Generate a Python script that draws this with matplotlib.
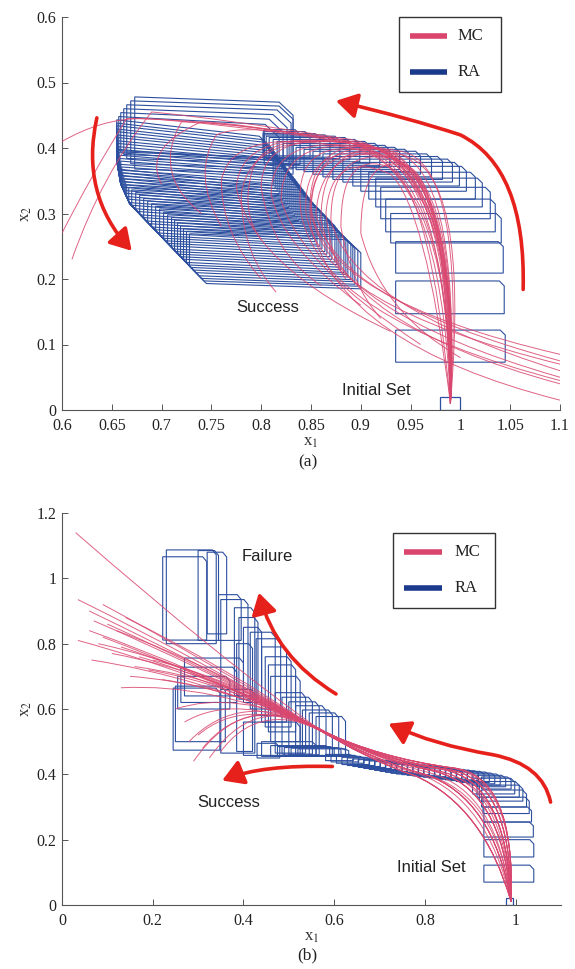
import matplotlib
matplotlib.use("Agg")
import matplotlib.pyplot as plt
from matplotlib.path import Path
from matplotlib.patches import PathPatch, Polygon, FancyArrowPatch, Rectangle
from matplotlib.lines import Line2D

plt.rcParams['font.family'] = ['Liberation Serif', 'DejaVu Serif']
plt.rcParams['mathtext.fontset'] = 'stix'

# ---------------- data: panel (a) ----------------
A_XLIM = (0.6, 1.1)
A_YLIM = (0.0, 0.6)
A_XTICKS = [0.6, 0.65, 0.7, 0.75, 0.8, 0.85, 0.9, 0.95, 1.0, 1.05, 1.1]
A_XTICKLABELS = ['0.6', '0.65', '0.7', '0.75', '0.8', '0.85', '0.9', '0.95', '1', '1.05', '1.1']
A_YTICKS = [0, 0.1, 0.2, 0.3, 0.4, 0.5, 0.6]
A_YTICKLABELS = ['0', '0.1', '0.2', '0.3', '0.4', '0.5', '0.6']

# reach sets (x0, x1, y0, y1): initial set, rising column and top trail
A_INIT = (0.980, 1.000, 0.000, 0.020)
A_BOXES = [
    (0.935, 1.045, 0.073, 0.122), (0.935, 1.044, 0.147, 0.197),
    (0.935, 1.043, 0.209, 0.257), (0.930, 1.041, 0.255, 0.300),
    (0.925, 1.035, 0.272, 0.322), (0.920, 1.030, 0.292, 0.340),
    (0.915, 1.022, 0.310, 0.354), (0.908, 1.015, 0.322, 0.363),
    (0.900, 1.006, 0.334, 0.372), (0.892, 0.999, 0.342, 0.378),
    (0.882, 0.992, 0.348, 0.383), (0.872, 0.982, 0.352, 0.387),
    (0.862, 0.971, 0.356, 0.391), (0.852, 0.960, 0.360, 0.395),
    (0.843, 0.949, 0.364, 0.398), (0.835, 0.939, 0.367, 0.401),
    (0.828, 0.929, 0.370, 0.404), (0.822, 0.919, 0.373, 0.407),
    (0.816, 0.909, 0.376, 0.410), (0.812, 0.899, 0.379, 0.413),
    (0.808, 0.889, 0.382, 0.416), (0.805, 0.879, 0.384, 0.418),
    (0.803, 0.869, 0.386, 0.420), (0.802, 0.859, 0.388, 0.422),
    (0.802, 0.849, 0.385, 0.425), (0.803, 0.839, 0.375, 0.428),
]
# "success" sets: (x left, x right, top y at left, top y at right, height)
A_SUCC = [
    (0.673, 0.818, 0.478, 0.470, 0.110), (0.669, 0.818, 0.472, 0.464, 0.096),
    (0.665, 0.816, 0.466, 0.458, 0.082), (0.662, 0.812, 0.460, 0.451, 0.070),
    (0.659, 0.808, 0.454, 0.444, 0.060), (0.657, 0.804, 0.448, 0.436, 0.052),
    (0.655, 0.798, 0.443, 0.418, 0.075), (0.655, 0.800, 0.438, 0.413, 0.075),
    (0.655, 0.802, 0.434, 0.409, 0.075), (0.655, 0.804, 0.429, 0.404, 0.075),
    (0.655, 0.806, 0.425, 0.400, 0.075), (0.655, 0.808, 0.420, 0.396, 0.075),
    (0.656, 0.810, 0.416, 0.392, 0.075), (0.656, 0.812, 0.411, 0.388, 0.075),
    (0.656, 0.814, 0.407, 0.384, 0.075), (0.657, 0.816, 0.402, 0.380, 0.075),
    (0.657, 0.818, 0.398, 0.376, 0.075), (0.657, 0.820, 0.393, 0.372, 0.075),
    (0.658, 0.822, 0.389, 0.368, 0.075), (0.658, 0.824, 0.384, 0.364, 0.075),
    (0.659, 0.826, 0.380, 0.360, 0.075), (0.659, 0.828, 0.375, 0.356, 0.075),
    (0.660, 0.830, 0.371, 0.352, 0.075), (0.660, 0.832, 0.366, 0.348, 0.075),
    (0.661, 0.834, 0.362, 0.344, 0.075), (0.662, 0.836, 0.357, 0.340, 0.075),
    (0.663, 0.838, 0.353, 0.336, 0.075), (0.664, 0.840, 0.348, 0.332, 0.075),
    (0.665, 0.842, 0.344, 0.328, 0.075), (0.667, 0.845, 0.340, 0.325, 0.075),
    (0.670, 0.847, 0.336, 0.321, 0.075), (0.674, 0.850, 0.332, 0.317, 0.075),
    (0.678, 0.852, 0.328, 0.313, 0.075), (0.682, 0.855, 0.323, 0.309, 0.075),
    (0.686, 0.857, 0.319, 0.305, 0.075), (0.690, 0.860, 0.315, 0.301, 0.075),
    (0.694, 0.862, 0.311, 0.297, 0.075), (0.698, 0.864, 0.307, 0.293, 0.075),
    (0.702, 0.866, 0.302, 0.289, 0.075), (0.706, 0.869, 0.298, 0.285, 0.075),
    (0.710, 0.871, 0.294, 0.282, 0.075), (0.713, 0.873, 0.290, 0.278, 0.075),
    (0.716, 0.876, 0.286, 0.274, 0.075), (0.719, 0.878, 0.281, 0.271, 0.075),
    (0.722, 0.880, 0.277, 0.267, 0.075), (0.725, 0.883, 0.273, 0.264, 0.075),
    (0.728, 0.886, 0.269, 0.260, 0.075),
]
# lower-left envelope of the success sets
A_ENVELOPE = [(0.655, 0.60), (0.655, 0.38), (0.659, 0.345), (0.668, 0.315),
              (0.745, 0.193), (1.2, 0.05), (1.2, 0.60)]

# Monte-Carlo trajectories (quadratic Bezier control points)
A_MC = [
    [(0.99, 0.01), (1.00, 0.36), (0.93, 0.385), (0.85, 0.41), (0.85, 0.31), (0.86, 0.17), (1.10, 0.085)],
    [(0.99, 0.01), (1.01, 0.37), (0.94, 0.39), (0.86, 0.41), (0.855, 0.30), (0.87, 0.17), (1.10, 0.075)],
    [(0.99, 0.01), (0.995, 0.37), (0.92, 0.39), (0.84, 0.41), (0.845, 0.30), (0.86, 0.16), (1.10, 0.07)],
    [(0.99, 0.01), (1.00, 0.38), (0.93, 0.395), (0.85, 0.42), (0.85, 0.30), (0.87, 0.15), (1.10, 0.05)],
    [(0.99, 0.01), (0.985, 0.37), (0.91, 0.395), (0.83, 0.42), (0.84, 0.30), (0.86, 0.14), (1.10, 0.045)],
    [(0.99, 0.01), (1.005, 0.38), (0.94, 0.395), (0.86, 0.42), (0.86, 0.29), (0.88, 0.13), (1.10, 0.04)],
    [(0.99, 0.01), (0.99, 0.38), (0.92, 0.40), (0.84, 0.42), (0.85, 0.28), (0.88, 0.10), (1.10, 0.015)],
    [(0.99, 0.01), (0.995, 0.36), (0.93, 0.385), (0.87, 0.40), (0.87, 0.29), (0.89, 0.16), (1.10, 0.06)],
    [(0.99, 0.01), (0.97, 0.33), (0.93, 0.37), (0.88, 0.40), (0.88, 0.28), (0.89, 0.19), (0.92, 0.14)],
    [(0.99, 0.01), (0.985, 0.34), (0.95, 0.37), (0.90, 0.40), (0.90, 0.27), (0.92, 0.15), (1.00, 0.08)],
    [(0.99, 0.01), (0.965, 0.31), (0.93, 0.36), (0.87, 0.40), (0.865, 0.30), (0.87, 0.23), (0.885, 0.20)],
    [(0.99, 0.01), (1.00, 0.39), (0.90, 0.405), (0.79, 0.43), (0.78, 0.33), (0.78, 0.24), (0.815, 0.18)],
    [(0.99, 0.01), (0.99, 0.39), (0.90, 0.405), (0.80, 0.43), (0.80, 0.34), (0.81, 0.24), (0.86, 0.19)],
    [(0.99, 0.01), (1.00, 0.39), (0.91, 0.40), (0.81, 0.425), (0.81, 0.33), (0.82, 0.25), (0.90, 0.16)],
    [(0.99, 0.01), (0.98, 0.38), (0.89, 0.40), (0.77, 0.435), (0.76, 0.35), (0.76, 0.27), (0.80, 0.20)],
    [(0.99, 0.01), (0.995, 0.39), (0.90, 0.405), (0.78, 0.435), (0.775, 0.34), (0.79, 0.22), (0.93, 0.12)],
    [(0.99, 0.01), (1.00, 0.38), (0.91, 0.40), (0.82, 0.42), (0.82, 0.32), (0.84, 0.22), (0.96, 0.10)],
    [(0.99, 0.01), (1.00, 0.39), (0.88, 0.41), (0.75, 0.44), (0.68, 0.445), (0.64, 0.445), (0.60, 0.41)],
    [(0.99, 0.01), (0.99, 0.39), (0.87, 0.415), (0.74, 0.445), (0.665, 0.445), (0.63, 0.36), (0.60, 0.27)],
    [(0.99, 0.01), (1.00, 0.40), (0.88, 0.415), (0.76, 0.445), (0.69, 0.455), (0.64, 0.36), (0.61, 0.23)],
    [(0.99, 0.01), (0.99, 0.39), (0.88, 0.41), (0.77, 0.44), (0.74, 0.44), (0.68, 0.40), (0.70, 0.345)],
    [(0.99, 0.01), (1.00, 0.39), (0.89, 0.41), (0.77, 0.44), (0.72, 0.44), (0.69, 0.36), (0.74, 0.30)],
    [(0.99, 0.01), (0.995, 0.39), (0.89, 0.41), (0.78, 0.44), (0.755, 0.42), (0.73, 0.36), (0.76, 0.28)],
    [(0.99, 0.01), (1.00, 0.39), (0.90, 0.405), (0.80, 0.43), (0.79, 0.36), (0.78, 0.30), (0.80, 0.26)],
]
A_ARROWS = [
    [(1.063, 0.184), (1.066, 0.37), (1.00, 0.42), (0.95, 0.445), (0.875, 0.472)],
    [(0.635, 0.446), (0.618, 0.33), (0.670, 0.243)],
]
A_TEXTS = [("Success", 0.807, 0.157), ("Initial Set", 0.916, 0.030)]

# ---------------- data: panel (b) ----------------
B_XLIM = (0.0, 1.1)
B_YLIM = (0.0, 1.2)
B_XTICKS = [0, 0.2, 0.4, 0.6, 0.8, 1.0]
B_XTICKLABELS = ['0', '0.2', '0.4', '0.6', '0.8', '1']
B_YTICKS = [0, 0.2, 0.4, 0.6, 0.8, 1.0, 1.2]
B_YTICKLABELS = ['0', '0.2', '0.4', '0.6', '0.8', '1', '1.2']

B_INIT = (0.978, 0.995, 0.000, 0.020)
B_BOXES = [
    # rising column
    (0.930, 1.040, 0.070, 0.122), (0.930, 1.040, 0.147, 0.200),
    (0.930, 1.039, 0.208, 0.254), (0.930, 1.035, 0.254, 0.300),
    (0.928, 1.030, 0.280, 0.330), (0.925, 1.024, 0.300, 0.352),
    (0.920, 1.016, 0.318, 0.367), (0.915, 1.008, 0.330, 0.378),
    (0.905, 0.998, 0.340, 0.388),
    # trail towards the left
    (0.925, 0.990, 0.355, 0.392), (0.915, 0.978, 0.362, 0.397),
    (0.904, 0.966, 0.367, 0.401), (0.893, 0.954, 0.371, 0.404),
    (0.881, 0.942, 0.375, 0.407), (0.869, 0.930, 0.378, 0.409),
    (0.857, 0.918, 0.381, 0.411), (0.845, 0.906, 0.383, 0.413),
    (0.833, 0.894, 0.385, 0.415), (0.821, 0.882, 0.387, 0.417),
    (0.809, 0.870, 0.389, 0.419), (0.797, 0.858, 0.391, 0.421),
    (0.785, 0.846, 0.393, 0.423), (0.773, 0.834, 0.395, 0.425),
    (0.761, 0.822, 0.397, 0.427), (0.749, 0.810, 0.399, 0.429),
    (0.737, 0.798, 0.401, 0.431), (0.725, 0.786, 0.403, 0.433),
    (0.713, 0.774, 0.406, 0.435), (0.701, 0.762, 0.409, 0.437),
    (0.689, 0.750, 0.412, 0.439), (0.677, 0.738, 0.415, 0.441),
    (0.665, 0.726, 0.418, 0.443), (0.653, 0.714, 0.421, 0.445),
    (0.641, 0.702, 0.424, 0.447), (0.629, 0.690, 0.427, 0.450),
    (0.617, 0.678, 0.430, 0.452), (0.605, 0.666, 0.434, 0.455),
    (0.593, 0.654, 0.438, 0.458), (0.581, 0.642, 0.442, 0.461),
    # thin strip at the split
    (0.520, 0.632, 0.455, 0.478), (0.505, 0.625, 0.455, 0.480),
    (0.490, 0.615, 0.456, 0.482), (0.475, 0.600, 0.456, 0.485),
    (0.460, 0.590, 0.455, 0.488), (0.440, 0.560, 0.455, 0.500),
    (0.430, 0.480, 0.450, 0.495), (0.400, 0.525, 0.458, 0.560),
    # tall sets growing upward
    (0.560, 0.625, 0.455, 0.577), (0.545, 0.610, 0.456, 0.588),
    (0.530, 0.596, 0.457, 0.597), (0.515, 0.582, 0.458, 0.610),
    (0.500, 0.567, 0.460, 0.622), (0.485, 0.552, 0.462, 0.636),
    (0.470, 0.537, 0.465, 0.650),
    # failure branch
    (0.460, 0.525, 0.500, 0.700), (0.455, 0.515, 0.530, 0.735),
    (0.448, 0.505, 0.545, 0.760), (0.440, 0.495, 0.560, 0.790),
    (0.428, 0.482, 0.580, 0.815), (0.415, 0.470, 0.600, 0.835),
    (0.400, 0.440, 0.620, 0.850), (0.390, 0.432, 0.630, 0.880),
    (0.380, 0.425, 0.640, 0.910), (0.350, 0.410, 0.660, 0.935),
    (0.345, 0.395, 0.810, 0.950), (0.320, 0.363, 0.830, 1.080),
    (0.300, 0.345, 0.810, 1.085), (0.230, 0.340, 0.800, 1.087),
    (0.222, 0.319, 0.811, 1.066),
    # success branch
    (0.385, 0.420, 0.470, 0.800), (0.350, 0.425, 0.465, 0.660),
    (0.270, 0.400, 0.640, 0.756), (0.262, 0.385, 0.620, 0.728),
    (0.255, 0.370, 0.600, 0.700), (0.250, 0.360, 0.500, 0.670),
    (0.245, 0.348, 0.474, 0.664),
]

B_MC = [
    [(0.99, 0.01), (1.00, 0.40), (0.86, 0.42), (0.70, 0.45), (0.57, 0.535), (0.36, 0.74), (0.03, 1.14)],
    [(0.99, 0.01), (0.99, 0.39), (0.85, 0.415), (0.70, 0.445), (0.56, 0.54), (0.32, 0.74), (0.035, 0.935)],
    [(0.99, 0.01), (0.97, 0.36), (0.82, 0.41), (0.69, 0.445), (0.56, 0.545), (0.33, 0.72), (0.06, 0.90)],
    [(0.99, 0.01), (0.95, 0.33), (0.80, 0.40), (0.69, 0.44), (0.555, 0.545), (0.32, 0.72), (0.07, 0.87)],
    [(0.99, 0.01), (0.93, 0.30), (0.78, 0.395), (0.68, 0.44), (0.55, 0.55), (0.34, 0.71), (0.10, 0.86)],
    [(0.99, 0.01), (0.98, 0.38), (0.84, 0.415), (0.70, 0.445), (0.565, 0.54), (0.30, 0.72), (0.06, 0.84)],
    [(0.99, 0.01), (1.00, 0.40), (0.86, 0.42), (0.70, 0.45), (0.57, 0.535), (0.30, 0.71), (0.035, 0.81)],
    [(0.99, 0.01), (0.99, 0.39), (0.85, 0.415), (0.70, 0.445), (0.56, 0.54), (0.32, 0.70), (0.09, 0.82)],
    [(0.99, 0.01), (0.97, 0.36), (0.82, 0.41), (0.69, 0.445), (0.56, 0.545), (0.30, 0.70), (0.065, 0.75)],
    [(0.99, 0.01), (0.95, 0.33), (0.80, 0.40), (0.69, 0.44), (0.555, 0.545), (0.33, 0.70), (0.13, 0.79)],
    [(0.99, 0.01), (0.93, 0.30), (0.78, 0.395), (0.68, 0.44), (0.55, 0.55), (0.34, 0.69), (0.17, 0.76)],
    [(0.99, 0.01), (0.98, 0.38), (0.84, 0.415), (0.70, 0.445), (0.565, 0.54), (0.33, 0.68), (0.13, 0.665)],
    [(0.99, 0.01), (1.00, 0.40), (0.86, 0.42), (0.70, 0.45), (0.57, 0.535), (0.36, 0.68), (0.19, 0.72)],
    [(0.99, 0.01), (0.99, 0.39), (0.85, 0.415), (0.70, 0.445), (0.56, 0.54), (0.38, 0.66), (0.22, 0.69)],
    [(0.99, 0.01), (0.97, 0.36), (0.82, 0.41), (0.69, 0.445), (0.56, 0.545), (0.38, 0.66), (0.25, 0.60)],
    [(0.99, 0.01), (0.95, 0.33), (0.80, 0.40), (0.69, 0.44), (0.555, 0.545), (0.40, 0.66), (0.29, 0.44)],
    [(0.99, 0.01), (0.93, 0.30), (0.78, 0.395), (0.68, 0.44), (0.55, 0.55), (0.42, 0.64), (0.325, 0.45)],
    [(0.99, 0.01), (0.98, 0.38), (0.84, 0.415), (0.70, 0.445), (0.565, 0.54), (0.43, 0.62), (0.35, 0.47)],
    [(0.99, 0.01), (1.00, 0.40), (0.86, 0.42), (0.70, 0.45), (0.57, 0.535), (0.40, 0.64), (0.30, 0.52)],
    [(0.99, 0.01), (0.99, 0.39), (0.85, 0.415), (0.70, 0.445), (0.56, 0.54), (0.38, 0.65), (0.27, 0.56)],
    [(0.99, 0.01), (0.97, 0.36), (0.82, 0.41), (0.69, 0.445), (0.56, 0.545), (0.36, 0.70), (0.20, 0.75)],
    [(0.99, 0.01), (0.95, 0.33), (0.80, 0.40), (0.69, 0.44), (0.555, 0.545), (0.36, 0.73), (0.14, 0.88)],
    [(0.99, 0.01), (0.93, 0.30), (0.78, 0.395), (0.68, 0.44), (0.55, 0.55), (0.35, 0.72), (0.12, 0.84)],
    [(0.99, 0.01), (0.98, 0.38), (0.84, 0.415), (0.70, 0.445), (0.565, 0.54), (0.35, 0.68), (0.15, 0.70)],
    [(0.99, 0.01), (0.96, 0.35), (0.81, 0.405), (0.69, 0.445), (0.56, 0.545), (0.31, 0.73), (0.08, 0.80)],
    [(0.99, 0.01), (0.985, 0.37), (0.83, 0.41), (0.70, 0.445), (0.56, 0.54), (0.34, 0.71), (0.11, 0.77)],
    [(0.99, 0.01), (0.94, 0.32), (0.79, 0.40), (0.68, 0.44), (0.55, 0.55), (0.37, 0.69), (0.16, 0.73)],
    [(0.99, 0.01), (1.00, 0.39), (0.855, 0.42), (0.70, 0.45), (0.57, 0.535), (0.41, 0.65), (0.31, 0.48)],
    [(0.99, 0.01), (0.975, 0.37), (0.83, 0.41), (0.69, 0.445), (0.56, 0.545), (0.39, 0.66), (0.28, 0.50)],
    [(0.99, 0.01), (0.96, 0.34), (0.80, 0.40), (0.69, 0.44), (0.555, 0.545), (0.33, 0.74), (0.09, 0.92)],
]
B_ARROWS = [
    [(1.077, 0.315), (1.06, 0.43), (0.95, 0.46), (0.82, 0.49), (0.72, 0.555)],
    [(0.604, 0.646), (0.47, 0.76), (0.434, 0.956)],
    [(0.596, 0.424), (0.44, 0.43), (0.353, 0.381)],
]
B_TEXTS = [("Failure", 0.452, 1.068), ("Success", 0.368, 0.315), ("Initial Set", 0.814, 0.114)]

# ---------------- styles ----------------
MC_COLOR = '#d9476f'
RA_COLOR = '#2d4f9f'
ARROW_COLOR = '#e6201a'
LEG_MC = '#d9456c'
LEG_RA = '#1c3a8c'


def chamfer_box(x0, x1, y0, y1, cx, cy):
    cx = min(cx, 0.25 * (x1 - x0))
    cy = min(cy, 0.25 * (y1 - y0))
    return [(x0, y0), (x0, y1), (x1 - cx, y1), (x1, y1 - cy), (x1, y0)]


def clip_poly(poly, clip):
    out = list(poly)
    n = len(clip)
    for i in range(n):
        a = clip[i]
        b = clip[(i + 1) % n]
        inp = out
        out = []
        if not inp:
            break

        def inside(p):
            return (b[0] - a[0]) * (p[1] - a[1]) - (b[1] - a[1]) * (p[0] - a[0]) >= 0

        def inter(p, q):
            dx, dy = q[0] - p[0], q[1] - p[1]
            ex, ey = b[0] - a[0], b[1] - a[1]
            den = dx * ey - dy * ex
            t = ((a[0] - p[0]) * ey - (a[1] - p[1]) * ex) / den
            return (p[0] + t * dx, p[1] + t * dy)

        s = inp[-1]
        for e in inp:
            if inside(e):
                if not inside(s):
                    out.append(inter(s, e))
                out.append(e)
            elif inside(s):
                out.append(inter(s, e))
            s = e
    return out


def bezier_path(pts):
    codes = [Path.MOVETO] + [Path.CURVE3] * (len(pts) - 1)
    return Path(pts, codes)


def style_axes(ax, xlim, ylim, xt, xtl, yt, ytl):
    ax.set_xlim(*xlim)
    ax.set_ylim(*ylim)
    ax.set_xticks(xt)
    ax.set_xticklabels(xtl)
    ax.set_yticks(yt)
    ax.set_yticklabels(ytl)
    for s in ['top', 'right']:
        ax.spines[s].set_visible(False)
    for s in ['left', 'bottom']:
        ax.spines[s].set_color('#555555')
        ax.spines[s].set_linewidth(0.8)
    ax.tick_params(direction='in', length=4, width=0.7, colors='#555555',
                   labelcolor='#222222', labelsize=11.5)
    ax.tick_params(axis='x', pad=6)
    ax.tick_params(axis='y', pad=4)
    ax.set_xlabel('x$_1$', fontsize=12, labelpad=0, color='#333333')
    ax.set_ylabel('x$_2$', fontsize=12, labelpad=2, color='#333333')


def draw_arrow(ax, pts):
    ar = FancyArrowPatch(path=bezier_path(pts), arrowstyle='-|>,head_length=0.75,head_width=0.45',
                         mutation_scale=17, color=ARROW_COLOR, lw=2.6, zorder=6)
    ax.add_patch(ar)


def draw_legend(ax, x0, x1, y0, y1, hx0, hx1, ymc, yra, tx):
    ax.add_patch(Rectangle((x0, y0), x1 - x0, y1 - y0, fill=True, fc='white',
                           ec='#333333', lw=1.0, zorder=8, clip_on=False))
    ax.add_line(Line2D([hx0, hx1], [ymc, ymc], color=LEG_MC, lw=4, zorder=9, solid_capstyle='butt'))
    ax.add_line(Line2D([hx0, hx1], [yra, yra], color=LEG_RA, lw=4, zorder=9, solid_capstyle='butt'))
    ax.text(tx, ymc, 'MC', fontsize=12, va='center', ha='left', zorder=9, color='#222222')
    ax.text(tx, yra, 'RA', fontsize=12, va='center', ha='left', zorder=9, color='#222222')


fig = plt.figure(figsize=(5.75, 9.69), dpi=100)
axA = fig.add_axes([62 / 575, (969 - 410) / 969, (560 - 62) / 575, (410 - 17) / 969])
axB = fig.add_axes([62 / 575, (969 - 905) / 969, (561 - 62) / 575, (905 - 513) / 969])

# ---------- panel (a) ----------
style_axes(axA, A_XLIM, A_YLIM, A_XTICKS, A_XTICKLABELS, A_YTICKS, A_YTICKLABELS)
ux, uy = 0.001, 0.0015   # data units per pixel (a)
axA.add_patch(Polygon(chamfer_box(*A_INIT, 0, 0), closed=True, fill=False, ec=RA_COLOR, lw=0.9, zorder=3))
for b in A_BOXES:
    axA.add_patch(Polygon(chamfer_box(*b, 5 * ux, 5 * uy), closed=True, fill=False,
                          ec=RA_COLOR, lw=0.8, zorder=2))
for xl, xr, ytl, ytr, h in A_SUCC:
    poly = [(xl, ytl), (xr, ytr), (xr + 0.014, ytr - 0.02), (xr + 0.014, ytr - h), (xl, ytl - h)]
    poly = clip_poly(poly, A_ENVELOPE)
    axA.add_patch(Polygon(poly, closed=True, fill=False, ec=RA_COLOR, lw=0.8, zorder=2))
for tr in A_MC:
    axA.add_patch(PathPatch(bezier_path(tr), fill=False, ec=MC_COLOR, lw=0.7, alpha=0.85, zorder=4))
for arr in A_ARROWS:
    draw_arrow(axA, arr)
for t, x, y in A_TEXTS:
    axA.text(x, y, t, fontsize=12, ha='center', va='center', family=['Liberation Sans', 'DejaVu Sans'],
             color='#222222', zorder=7)
draw_legend(axA, 0.938, 1.041, 0.486, 0.600, 0.949, 0.987, 0.571, 0.516, 0.997)

# ---------- panel (b) ----------
style_axes(axB, B_XLIM, B_YLIM, B_XTICKS, B_XTICKLABELS, B_YTICKS, B_YTICKLABELS)
ux, uy = 0.0022, 0.0037
axB.add_patch(Polygon(chamfer_box(*B_INIT, 0, 0), closed=True, fill=False, ec=RA_COLOR, lw=0.9, zorder=3))
for b in B_BOXES:
    axB.add_patch(Polygon(chamfer_box(*b, 4 * ux, 4 * uy), closed=True, fill=False,
                          ec=RA_COLOR, lw=0.8, zorder=2))
for tr in B_MC:
    axB.add_patch(PathPatch(bezier_path(tr), fill=False, ec=MC_COLOR, lw=0.7, alpha=0.85, zorder=4))
for arr in B_ARROWS:
    draw_arrow(axB, arr)
for t, x, y in B_TEXTS:
    axB.text(x, y, t, fontsize=12, ha='center', va='center', family=['Liberation Sans', 'DejaVu Sans'],
             color='#222222', zorder=7)
draw_legend(axB, 0.729, 0.955, 0.910, 1.139, 0.753, 0.838, 1.080, 0.970, 0.866)

fig.text(0.535, 1 - 462 / 969, '(a)', fontsize=12.5, ha='center', va='center', color='#222222')
fig.text(0.535, 1 - 955 / 969, '(b)', fontsize=12.5, ha='center', va='center', color='#222222')

fig.savefig('out.png', dpi=100)
